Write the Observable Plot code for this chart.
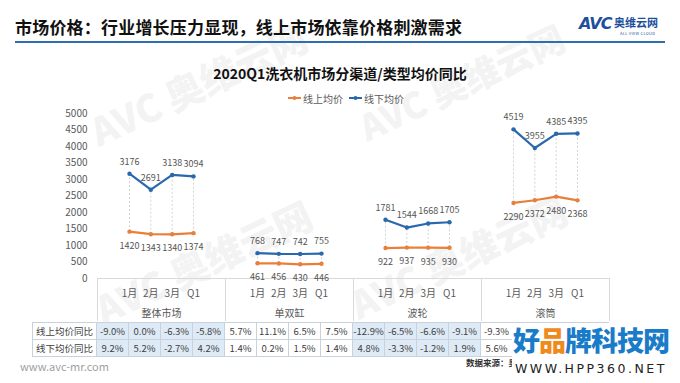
<!DOCTYPE html>
<html>
<head>
<meta charset="utf-8">
<script src="https://cdn.jsdelivr.net/npm/d3@7"></script>
<script src="https://cdn.jsdelivr.net/npm/@observablehq/plot@0.6"></script>
<style>
  html, body { margin: 0; padding: 0; background: #fff; }
  body { font-family: "Noto Sans CJK SC", "Noto Sans", sans-serif; }
  #page { position: relative; width: 680px; height: 383px; overflow: hidden; }
  #page > * { position: absolute; }
  .wm { color: #000; opacity: 0.045; font-weight: 900; transform: rotate(-25deg); transform-origin: left bottom; white-space: nowrap; line-height: 1; }
  table.t { border-collapse: collapse; font-size: 9.5px; color: #404040; table-layout: fixed; }
  table.t td { border: 1px solid #c9d2dc; height: 16px; padding: 0; text-align: center; width: 31px; }
  table.t td.lab { width: 63px; }
  table.t td.blue { background: #deeaf6; }
</style>
</head>
<body>
<div id="page">
  <div class="wm" style="left:100px;top:112px;font-size:38px;">AVC 奥维云网</div>
  <div class="wm" style="left:368px;top:108px;font-size:36px;">AVC 奥维云网</div>
  <div class="wm" style="left:105px;top:290px;font-size:38px;">AVC 奥维云网</div>
  <div class="wm" style="left:360px;top:285px;font-size:38px;">AVC 奥维云网</div>

  <div id="chart" style="left:0;top:0;"></div>

  <div style="left:15px;top:14px;font-size:17px;font-weight:700;color:#111;letter-spacing:0.2px;">市场价格：行业增长压力显现，线上市场依靠价格刺激需求</div>
  <div style="left:15px;top:41px;width:650px;height:2px;background:#2e6db0;"></div>
  <div style="left:579px;top:14px;font-size:16px;font-weight:900;font-style:italic;color:#1d4f9c;letter-spacing:-1px;font-family:'DejaVu Sans';">AVC</div>
  <div style="left:614px;top:14px;font-size:11px;font-weight:700;color:#1d4f9c;">奥维云网</div>
  <div style="left:620px;top:30px;font-size:4px;color:#1d4f9c;letter-spacing:0.3px;">ALL VIEW CLOUD</div>

  <div style="left:140px;top:63px;width:400px;text-align:center;font-size:14px;font-weight:700;color:#111;">2020Q1洗衣机市场分渠道/类型均价同比</div>
  <div id="legend" style="left:288px;top:89px;font-size:10px;color:#595959;"></div>

  <div id="table" style="left:32px;top:322px;"></div>
  <div style="left:20px;top:358px;font-size:11px;color:#a0a0a0;">www.avc-mr.com</div>
  <div style="left:466px;top:356px;font-size:8.5px;font-weight:700;color:#333;white-space:nowrap;">数据来源：奥</div>

  <div style="left:512px;top:323px;width:168px;height:60px;background:#fff;"></div>
  <div style="left:513px;top:320px;font-size:27px;font-weight:900;letter-spacing:-1px;white-space:nowrap;"><span style="color:#1a7cc9">好</span><span style="color:#f08a1c">品</span><span style="color:#1a7cc9">牌科技网</span></div>
  <div style="left:515px;top:361px;font-size:12.5px;color:#222;letter-spacing:2.5px;font-family:'DejaVu Sans';">WWW.HPP360.NET</div>
</div>
<script>
const groups = ["整体市场", "单双缸", "波轮", "滚筒"];
const months = ["1月", "2月", "3月", "Q1"];
const onlinePrice = [1420, 1343, 1340, 1374, 461, 456, 430, 446, 922, 937, 935, 930, 2290, 2372, 2480, 2368];
const offlinePrice = [3176, 2691, 3138, 3094, 768, 747, 742, 755, 1781, 1544, 1668, 1705, 4519, 3955, 4385, 4395];
const onlineYoY = ["-9.0%", "0.0%", "-6.3%", "-5.8%", "5.7%", "11.1%", "6.5%", "7.5%", "-12.9%", "-6.5%", "-6.6%", "-9.1%", "-9.3%", "", "", ""];
const offlineYoY = ["9.2%", "5.2%", "-2.7%", "4.2%", "1.4%", "0.2%", "1.5%", "1.4%", "4.8%", "-3.3%", "-1.2%", "1.9%", "5.6%", "", "", ""];
const yTicks = [0, 500, 1000, 1500, 2000, 2500, 3000, 3500, 4000, 4500, 5000];
const seriesNames = ["线上均价", "线下均价"];

const ORANGE = "#e8803c", BLUE = "#2a68ad";
const SLOTS = 6; // category slots per group (4 months + gaps)

const rows = [];
groups.forEach((g, gi) => months.forEach((m, mi) => {
  const k = gi * 4 + mi;
  rows.push({group: g, month: m, pos: gi * SLOTS + 1.5 + mi, on: onlinePrice[k], off: offlinePrice[k]});
}));
const groupRows = groups.map((g, gi) => ({group: g, pos: gi * SLOTS + SLOTS / 2}));
const bounds = d3.range(groups.length + 1).map(i => i * SLOTS);

const chart = Plot.plot({
  width: 680, height: 383,
  marginTop: 113, marginBottom: 105, marginLeft: 97, marginRight: 71,
  style: {fontFamily: "'Noto Sans CJK SC', sans-serif", fontSize: "10px", color: "#595959", background: "transparent"},
  x: {domain: [0, groups.length * SLOTS], axis: null},
  y: {domain: [0, 5000], axis: null},
  marks: [
    Plot.axisY(yTicks, {tickSize: 0, tickPadding: 10, fontSize: 10, fill: "#595959", tickFormat: d => String(d)}),
    Plot.ruleY([0], {stroke: "#d9d9d9"}),
    Plot.ruleX(bounds, {y1: 0, y2: -1300, stroke: "#d9d9d9"}),
    Plot.ruleX(rows, {x: "pos", y1: "on", y2: "off", stroke: "#c8c8c8", strokeDasharray: "2,2", strokeWidth: 0.8}),
    Plot.line(rows, {x: "pos", y: "on", z: "group", stroke: ORANGE, strokeWidth: 2.2}),
    Plot.line(rows, {x: "pos", y: "off", z: "group", stroke: BLUE, strokeWidth: 2.2}),
    Plot.dot(rows, {x: "pos", y: "on", r: 2.2, fill: ORANGE}),
    Plot.dot(rows, {x: "pos", y: "off", r: 2.2, fill: BLUE}),
    Plot.text(rows, {x: "pos", y: "off", text: d => String(d.off), dy: -12, fill: "#555", fontSize: 9}),
    Plot.text(rows, {x: "pos", y: "on", text: d => String(d.on), dy: 14, fill: "#555", fontSize: 9}),
    Plot.text(rows, {x: "pos", y: 0, text: "month", dy: 15, fill: "#595959", fontSize: 10}),
    Plot.text(groupRows, {x: "pos", y: 0, text: "group", dy: 35, fill: "#595959", fontSize: 10})
  ]
});
document.getElementById("chart").appendChild(chart);

// legend
const leg = document.getElementById("legend");
leg.innerHTML = seriesNames.map((n, i) => {
  const c = i === 0 ? ORANGE : BLUE;
  return `<span style="display:inline-flex;align-items:center;margin-right:6px;">
    <svg width="13" height="6" style="margin-right:2px"><line x1="0" y1="3" x2="13" y2="3" stroke="${c}" stroke-width="2"/><circle cx="6.5" cy="3" r="2" fill="${c}"/></svg>${n}</span>`;
}).join("");

// table
const labels = ["线上均价同比", "线下均价同比"];
const vals = [onlineYoY, offlineYoY];
let html = '<table class="t">';
labels.forEach((l, r) => {
  html += `<tr><td class="lab">${l}</td>`;
  vals[r].forEach((v, k) => {
    const g = Math.floor(k / 4);
    html += `<td class="${g % 2 === 0 ? "blue" : ""}">${v}</td>`;
  });
  html += "</tr>";
});
html += "</table>";
document.getElementById("table").innerHTML = html;
</script>
</body>
</html>
